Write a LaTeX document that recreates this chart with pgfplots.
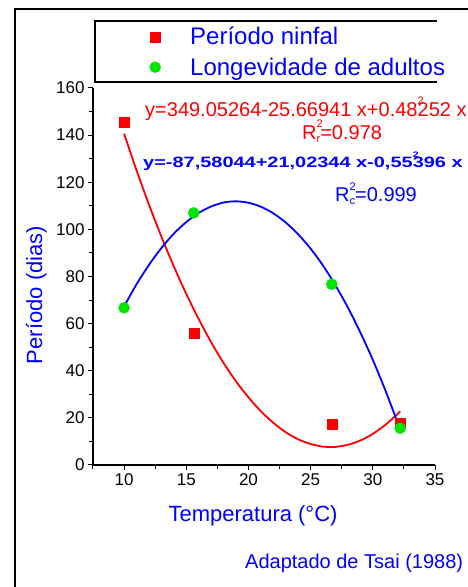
\documentclass[border=0pt]{standalone}
\usepackage{fontspec}
\setmainfont{Liberation Sans}
\usepackage{pgfplots}
\pgfplotsset{compat=1.18}
\pgfplotstableread{
x y
10 145.3
15.6 56.0
26.7 17.4
32.2 17.7
}\ninfal
\pgfplotstableread{
x y
10 66.7
15.6 107.0
26.7 76.7
32.2 15.6
}\adultos
\pgfplotstableread{
x y
10 140.6
11 125.1
12 110.5
13 96.9
14 84.3
15 72.6
16 61.9
17 52.1
18 43.3
19 35.5
20 28.7
21 22.8
22 17.9
23 13.9
24 10.9
25 8.9
26 7.8
27 7.7
28 8.6
29 10.4
30 13.2
31 17.0
32 21.7
32.2 22.8
}\ajusteN
\pgfplotstableread{
x y
10 67.3
11 76.7
12 84.9
13 92.1
14 98.2
15 103.1
16 107.0
17 109.7
18 111.4
19 111.9
20 111.3
21 109.6
22 106.8
23 102.9
24 97.9
25 91.8
26 84.6
27 76.2
28 66.8
29 56.2
30 44.6
31 31.8
32 17.9
32.2 15.0
}\ajusteA
\definecolor{vermelho}{RGB}{255,0,0}
\definecolor{verde}{RGB}{0,230,0}
\definecolor{azul}{RGB}{0,0,255}
\begin{document}
\begin{tikzpicture}[x=1pt,y=1pt]
\useasboundingbox (0,0) rectangle (468,587);
\fill[white] (0,0) rectangle (468,587);
\draw[line width=1.5pt] (15,-5) -- (15,578) -- (475,578);
\draw[line width=1.2pt] (437,566) -- (95,566) -- (95,505) -- (437,505);
\begin{axis}[
  at={(93pt,122pt)}, anchor=south west,
  scale only axis, width=342pt, height=377pt,
  xmin=7.5, xmax=35, ymin=0, ymax=160,
  axis lines*=left,
  axis line style={line width=1.2pt},
  tick style={black, line width=1pt},
  tick align=outside,
  major tick length=5pt, minor tick length=3.5pt,
  xtick={10,15,...,35}, ytick={0,20,...,160},
  minor xtick={7.5,12.5,...,32.5}, minor ytick={10,30,...,150},
  ticklabel style={font=\fontsize{17}{20}\selectfont},
  /pgf/number format/assume math mode=true,
  xlabel={Temperatura (°C)}, ylabel={Período (dias)},
  label style={font=\fontsize{22}{26}\selectfont, text=azul},
  xlabel style={at={(axis description cs:0.468,-0.151)}, anchor=base},
  ylabel style={at={(axis description cs:-0.149,0.451)}, anchor=base},
  clip=false,
  legend style={at={(axis description cs:0.1652,1.162)}, anchor=north west,
    draw=none, fill=none, inner sep=0pt, font=\fontsize{24}{28}\selectfont,
    text=azul, row sep=11.4pt, column sep=0pt,
    nodes={inner sep=0pt}},
  legend cell align=left,
]
\addplot[only marks, mark=square*, mark size=5pt, color=vermelho] table[x=x,y=y] {\ninfal};
\addlegendentry{\hspace{29.5pt}Período ninfal}
\addplot[only marks, mark=*, mark size=5.5pt, color=verde] table[x=x,y=y] {\adultos};
\addlegendentry{\hspace{29.5pt}Longevidade de adultos}
\addplot[smooth, line width=1.8pt, color=vermelho, forget plot] table[x=x,y=y] {\ajusteN};
\addplot[smooth, line width=1.8pt, color=azul, forget plot] table[x=x,y=y] {\ajusteA};
\end{axis}
\node[anchor=base west, inner sep=0pt, text=vermelho, font=\fontsize{20}{24}\selectfont] at (145,470.3)
  {y=349.05264-25.66941 x+0.48\rlap{\raisebox{12pt}{\fontsize{11}{11}\selectfont 2}}252 x};
\node[anchor=base west, inner sep=0pt, text=vermelho, font=\fontsize{20}{24}\selectfont] at (302,447)
  {R\rlap{\raisebox{12pt}{\fontsize{11}{11}\selectfont 2}}\raisebox{-3pt}{\fontsize{11}{11}\selectfont r}=0.978};
\node[anchor=base west, inner sep=0pt, text=azul, font=\fontsize{15}{18}\selectfont\bfseries] at (143,419.3)
  {\scalebox{1.33}[1]{y=-87,58044+21,02344 x-0,55\rlap{\raisebox{10pt}{\fontsize{8}{8}\selectfont 2}}396 x}};
\node[anchor=base west, inner sep=0pt, text=azul, font=\fontsize{20}{24}\selectfont] at (335,385.3)
  {R\rlap{\raisebox{11pt}{\fontsize{11}{11}\selectfont 2}}\raisebox{-3pt}{\fontsize{11}{11}\selectfont c}=0.999};
\node[anchor=base west, inner sep=0pt, text=azul, font=\fontsize{20}{24}\selectfont] at (245,19)
  {Adaptado de Tsai (1988)};
\end{tikzpicture}
\end{document}
